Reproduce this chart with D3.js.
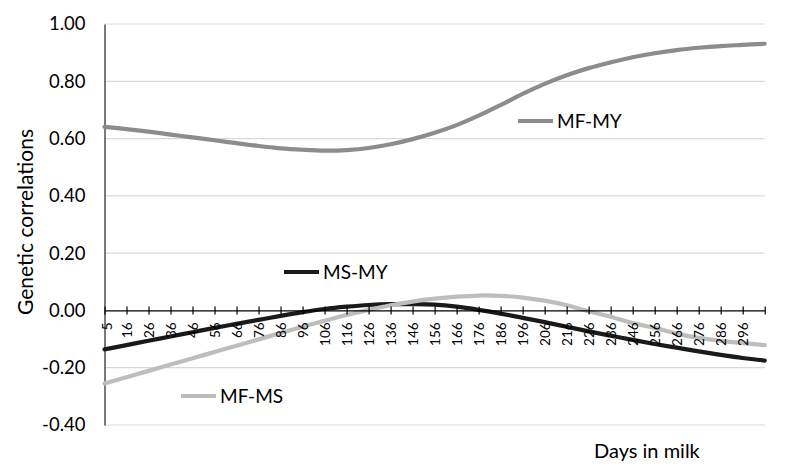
<!DOCTYPE html>
<html>
<head>
<meta charset="utf-8">
<script src="https://cdn.jsdelivr.net/npm/d3@7/dist/d3.min.js"></script>
<style>
  html, body { margin: 0; padding: 0; background: #fff; }
  svg { display: block; font-family: Lato, "Open Sans", sans-serif; }
</style>
</head>
<body>
<svg id="chart" width="787" height="468"></svg>
<script>
// ---- data ----
const dayLabels = ["5","16","26","36","46","56","66","76","86","96","106","116","126","136","146","156","166","176","186","196","206","216","226","236","246","256","266","276","286","296",""];
const yTicks = [-0.4, -0.2, 0, 0.2, 0.4, 0.6, 0.8, 1.0];
const mfMY = [0.641,0.633,0.624,0.614,0.604,0.594,0.584,0.574,0.566,0.561,0.558,0.560,0.567,0.580,0.598,0.620,0.647,0.680,0.717,0.756,0.791,0.821,0.846,0.866,0.884,0.898,0.909,0.917,0.923,0.927,0.931];
const msMY = [-0.136,-0.121,-0.106,-0.091,-0.076,-0.061,-0.047,-0.033,-0.019,-0.006,0.005,0.013,0.019,0.022,0.022,0.020,0.013,0.002,-0.011,-0.026,-0.041,-0.057,-0.073,-0.088,-0.103,-0.117,-0.130,-0.143,-0.155,-0.166,-0.175];
const mfMS = [-0.255,-0.233,-0.211,-0.189,-0.167,-0.145,-0.123,-0.101,-0.079,-0.057,-0.036,-0.016,0.002,0.018,0.031,0.041,0.048,0.052,0.051,0.045,0.034,0.018,-0.003,-0.022,-0.044,-0.061,-0.081,-0.096,-0.106,-0.114,-0.121];
const seriesNames = ["MF-MY", "MS-MY", "MF-MS"];
const seriesColors = ["#8c8c8c", "#1a1a1a", "#bdbdbd"];

const svg = d3.select("#chart");
const plotLeft = 104.5, plotRight = 764.7, plotTop = 24, plotBottom = 425;

const x = d3.scaleLinear().domain([0, dayLabels.length - 1]).range([plotLeft, plotRight]);
const y = d3.scaleLinear().domain([-0.4, 1.0]).range([plotBottom, plotTop]);

// gridlines
svg.append("g").selectAll("line").data(yTicks.filter(v => v !== 0)).join("line")
  .attr("x1", plotLeft).attr("x2", plotRight)
  .attr("y1", d => y(d)).attr("y2", d => y(d))
  .attr("stroke", "#d9d9d9").attr("stroke-width", 1.2);

// y axis
const yAxis = d3.axisLeft(y).tickValues(yTicks).tickSize(0).tickPadding(19)
  .tickFormat(d => d3.format(".2f")(d).replace("\u2212", "-"));
const gy = svg.append("g").attr("transform", `translate(${plotLeft},0)`).call(yAxis);
gy.select(".domain").attr("stroke", "#333").attr("stroke-width", 1.3);
gy.selectAll("text").attr("font-size", 18.5).attr("fill", "#000").attr("font-family", "Lato, sans-serif");

// lines
const line = d3.line().x((d, i) => x(i)).y(d => y(d)).curve(d3.curveCatmullRom.alpha(0.5));
const allSeries = [mfMY, msMY, mfMS];
svg.append("g").selectAll("path").data(allSeries).join("path")
  .attr("d", d => line(d))
  .attr("fill", "none")
  .attr("stroke", (d, i) => seriesColors[i])
  .attr("stroke-width", 4.2)
  .attr("stroke-linecap", "round");

// x axis at zero
const xAxis = d3.axisBottom(x).tickValues(d3.range(dayLabels.length))
  .tickFormat(i => dayLabels[i]).tickSize(4).tickSizeOuter(0);
const gx = svg.append("g").attr("transform", `translate(0,${y(0)})`).call(xAxis);
gx.select(".domain").attr("stroke", "#000").attr("stroke-width", 1.2);
gx.selectAll(".tick line").attr("y1", -4).attr("y2", 4).attr("stroke", "#000").attr("stroke-width", 1.2);
gx.selectAll(".tick text")
  .attr("font-size", 13.5).attr("fill", "#000").attr("font-family", "Lato, sans-serif")
  .attr("transform", "rotate(-90)")
  .attr("text-anchor", "end")
  .attr("x", -12).attr("y", 0).attr("dy", "0.35em");
gx.select(".tick text").attr("transform", "translate(2,0) rotate(-90)");

// series labels
const labelPos = [
  { lx: 518, ly: 121 },
  { lx: 284, ly: 272 },
  { lx: 181, ly: 396 }
];
const lg = svg.append("g");
seriesNames.forEach((name, i) => {
  const p = labelPos[i];
  lg.append("line").attr("x1", p.lx).attr("x2", p.lx + 35).attr("y1", p.ly).attr("y2", p.ly)
    .attr("stroke", seriesColors[i]).attr("stroke-width", 4.2);
  lg.append("text").attr("x", p.lx + 39).attr("y", p.ly).attr("dy", "0.35em")
    .attr("font-size", 19).attr("fill", "#000").text(name);
});

// axis titles
svg.append("text").attr("transform", "translate(33,222) rotate(-90)")
  .attr("text-anchor", "middle").attr("font-size", 21).attr("fill", "#000")
  .text("Genetic correlations");
svg.append("text").attr("x", 594).attr("y", 451).attr("dy", "0.35em")
  .attr("font-size", 20).attr("fill", "#000").text("Days in milk");
</script>
</body>
</html>
